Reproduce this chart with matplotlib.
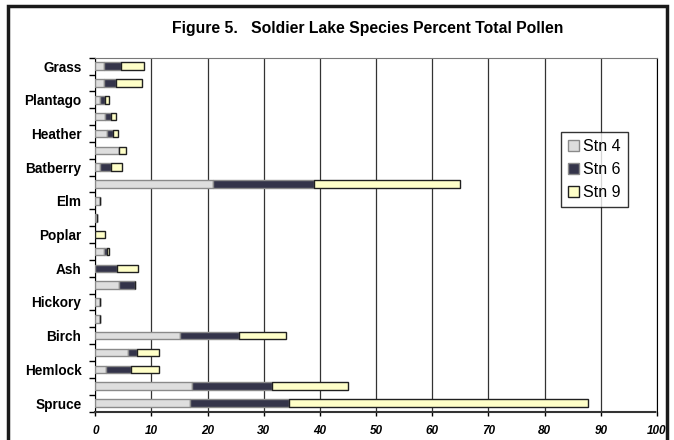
import matplotlib.pyplot as plt
from matplotlib.patches import Rectangle
import numpy as np

plt.rcParams['font.family'] = ['Liberation Sans', 'DejaVu Sans']

# species rows, top to bottom (only every other row carries a label)
species = ['Grass', '', 'Plantago', '', 'Heather', '', 'Batberry', '',
           'Elm', '', 'Poplar', '', 'Ash', '', 'Hickory', '',
           'Birch', '', 'Hemlock', '', 'Spruce']

# percent of total pollen at each station
stn4 = [1.5, 1.6, 0.9, 1.8, 2.1, 4.2, 0.9, 21.0,
        0.8, 0.3, 0.0, 1.6, 0.0, 4.3, 0.8, 0.8,
        15.1, 5.9, 1.9, 17.2, 16.9]
stn6 = [3.1, 2.0, 0.9, 1.0, 1.0, 0.0, 1.9, 18.0,
        0.0, 0.0, 0.0, 0.4, 3.8, 2.8, 0.0, 0.0,
        10.5, 1.5, 4.4, 14.2, 17.5]
stn9 = [4.0, 4.7, 0.7, 0.95, 0.9, 1.3, 2.0, 26.0,
        0.0, 0.0, 1.7, 0.5, 3.8, 0.0, 0.0, 0.0,
        8.4, 4.0, 5.0, 13.6, 53.4]

series = [('Stn 4', stn4, '#dedede', '#8a8a8a'),
          ('Stn 6', stn6, '#34344a', '#8a8a8a'),
          ('Stn 9', stn9, '#ffffc8', '#202020')]

fig = plt.figure(figsize=(6.74, 4.40), dpi=100)
ax = fig.add_axes([95.3 / 674, 1 - 411.5 / 440,
                   (657 - 95.3) / 674, (411.5 - 57.7) / 440])

n = len(species)
y = np.arange(n)[::-1]
left = np.zeros(n)
for name, vals, face, edge in series:
    vals = np.array(vals)
    ax.barh(y, vals, left=left, height=0.45, color=face,
            edgecolor=edge, linewidth=1.0, label=name, zorder=3)
    left += vals

ax.set_xlim(0, 100)
ax.set_ylim(-0.5, n - 0.5)
ax.set_xticks(np.arange(0, 101, 10))
ax.set_xticklabels([str(v) for v in range(0, 101, 10)],
                   fontsize=8.5, fontweight='bold', fontstyle='italic')
ax.tick_params(axis='x', length=3, width=1, pad=7, direction='out')
ax.grid(axis='x', color='#333333', linewidth=0.9, zorder=1)

# category boundaries get the tick marks, centres get the names
ax.set_yticks(np.arange(-0.5, n, 1))
ax.set_yticklabels([])
ax.set_yticks(y, minor=True)
ax.set_yticklabels(species, minor=True, fontsize=9.8, fontweight='bold')
ax.tick_params(axis='y', which='major', length=4, width=1)
ax.tick_params(axis='y', which='minor', length=0, pad=10)

ax.spines['left'].set_color('black')
ax.spines['right'].set_color('black')
ax.spines['top'].set_color('#777777')
ax.spines['bottom'].set_linestyle((0, (2, 1)))
ax.spines['bottom'].set_color('#333333')
ax.spines['bottom'].set_linewidth(1.5)

fig.text(368 / 674, 1 - 28 / 440,
         'Figure 5.   Soldier Lake Species Percent Total Pollen',
         fontsize=11.3, fontweight='bold', ha='center', va='center')

leg = ax.legend(loc='upper left', bbox_to_anchor=((561 - 95.3) / 561.7, 1 - (132 - 57.7) / 353.8),
                fontsize=11.5, frameon=True, fancybox=False, handlelength=0.7,
                handleheight=0.7, handletextpad=0.25, labelspacing=0.5,
                borderpad=0.45, borderaxespad=0)
leg.get_frame().set_edgecolor('black')
leg.get_frame().set_linewidth(1.0)

# outer frame around the whole figure
fig.patches.append(Rectangle((7.5 / 674, -0.05), (667 - 7.5) / 674, 1.05 - 6.5 / 440,
                             transform=fig.transFigure, fill=False,
                             edgecolor='#1a1a1a', linewidth=2.5))

fig.savefig('out.png', dpi=100)
